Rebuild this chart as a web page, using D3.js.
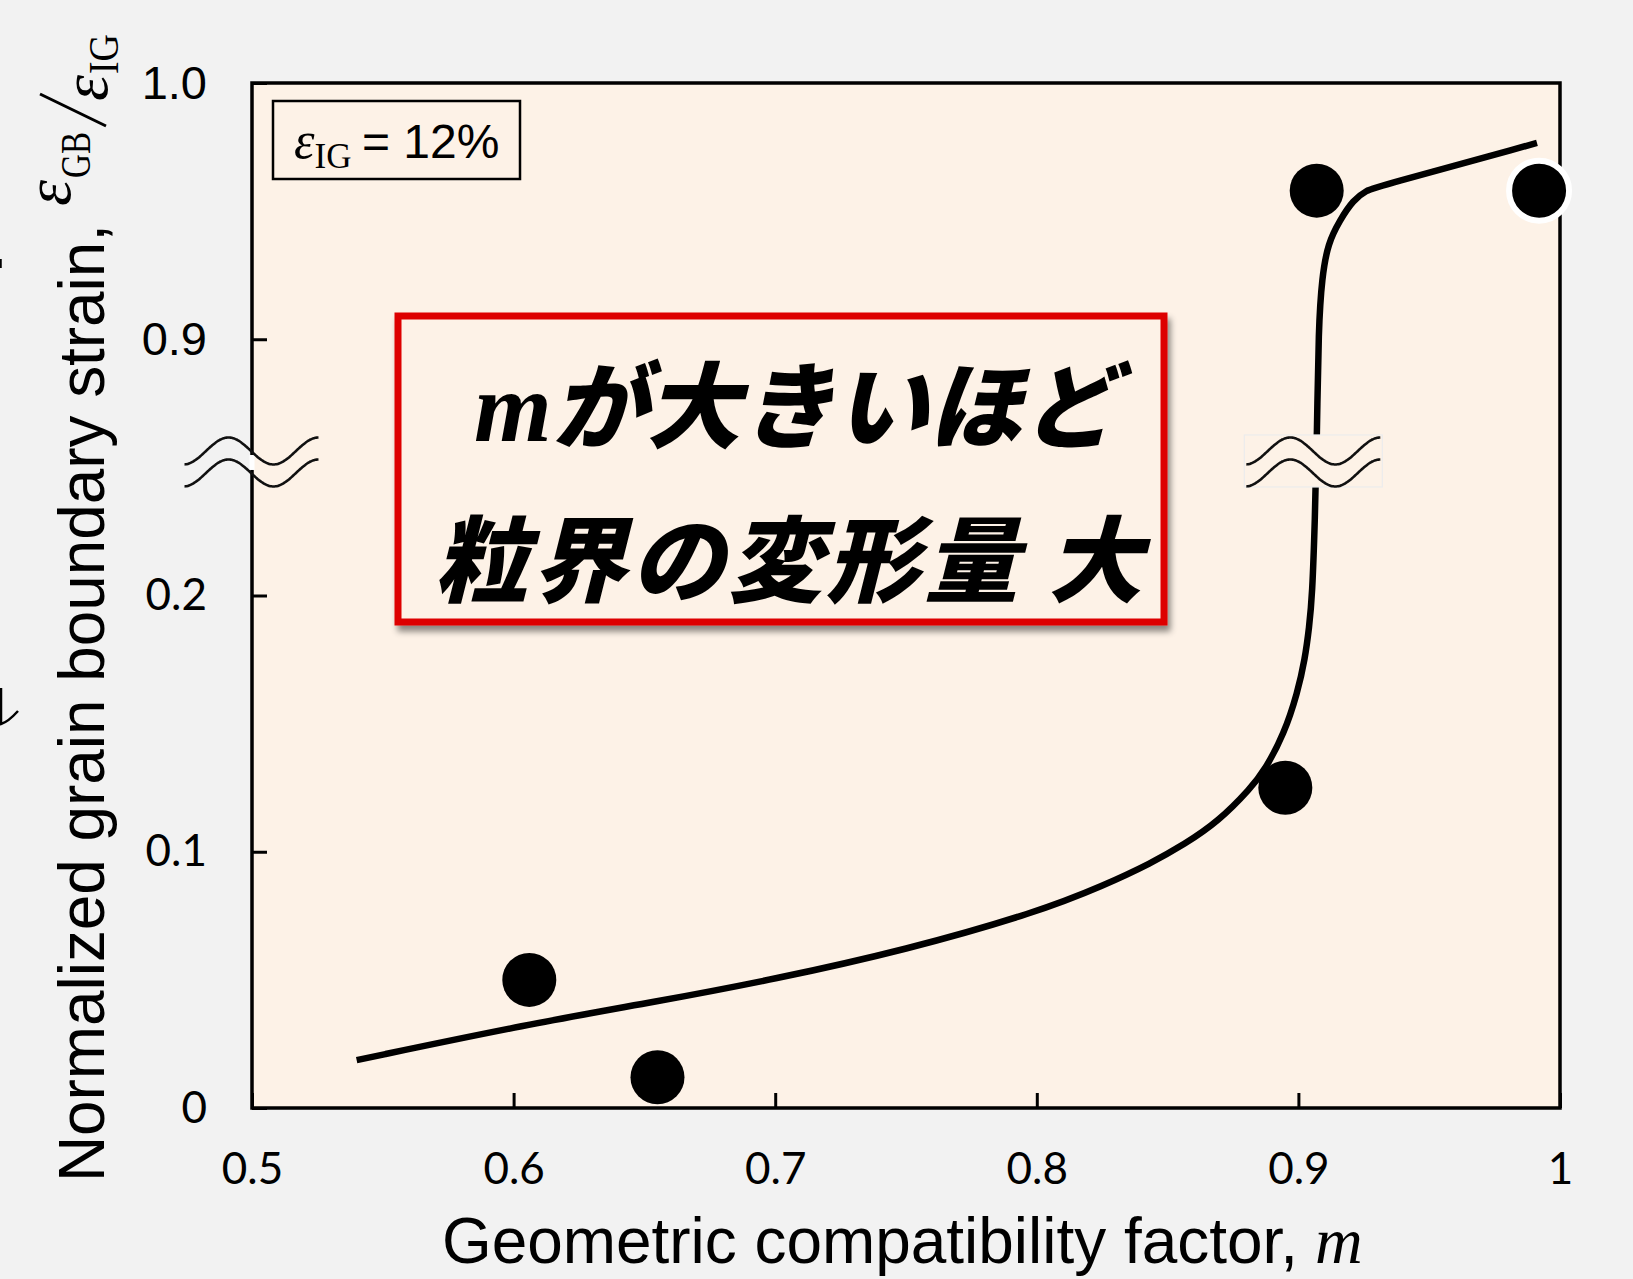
<!DOCTYPE html>
<html>
<head>
<meta charset="utf-8">
<script src="https://cdn.jsdelivr.net/npm/d3@7"></script>
<style>
  html, body { margin: 0; padding: 0; background: #f2f2f2; }
  svg { display: block; }
</style>
</head>
<body>
<svg id="chart" width="1633" height="1279"></svg>
<script>
// Measured grain boundaries: geometric compatibility factor m vs. normalized GB strain
const pointM     = [0.606, 0.655, 0.895, 0.907, 0.992];
const pointRatio = [0.050, 0.012, 0.125, 0.958, 0.958];

// Trend curve through the measurements
const fitM     = [0.540, 0.606, 0.654, 0.700, 0.750, 0.8002, 0.8260, 0.8436, 0.8563, 0.8694,
                  0.8818, 0.8873, 0.8945, 0.8997, 0.9025, 0.9041, 0.9053, 0.9063, 0.9071,
                  0.9077, 0.9090, 0.9113, 0.9159, 0.9209, 0.9262, 0.9300, 0.9912];
const fitRatio = [0.0187, 0.0328, 0.0414, 0.0503, 0.0617, 0.0764, 0.0870, 0.0955, 0.1028, 0.1118,
                  0.1248, 0.1321, 0.1459, 0.1622, 0.1752, 0.1874, 0.2000, 0.4035, 0.637,
                  0.905, 0.924, 0.9376, 0.9465, 0.9543, 0.9582, 0.9594, 0.9766];

// Axis ticks (the y axis is broken between 0.2 and 0.9)
const xTicks      = [0.5, 0.6, 0.7, 0.8, 0.9, 1.0];
const xTickLabels = ["0.5", "0.6", "0.7", "0.8", "0.9", "1"];
const yTicks      = [0, 0.1, 0.2, 0.9, 1.0];
const yTickLabels = ["0", "0.1", "0.2", "0.9", "1.0"];
const yBreakLow = 0.2, yBreakHigh = 0.9;

const strainLevel = "12%";
const noteLine1 = "が大きいほど";
const noteLine2 = "粒界の変形量 大";

// ---- layout ----
const W = 1633, H = 1279;
const plot = { left: 252, right: 1560, top: 83, bottom: 1108 };
const plotFill = "#fdf2e7";
const seg = (plot.bottom - plot.top) / 4;

const svg = d3.select("#chart");

const x = d3.scaleLinear().domain([0.5, 1.0]).range([plot.left, plot.right]);
const y = d3.scaleLinear()
  .domain([0, yBreakLow, yBreakHigh, 1.0])
  .range([plot.bottom, plot.bottom - 2 * seg, plot.top + seg, plot.top]);

// drop shadow for the callout box
const defs = svg.append("defs");
const sh = defs.append("filter").attr("id", "shadow")
  .attr("x", "-10%").attr("y", "-10%").attr("width", "120%").attr("height", "130%");
sh.append("feDropShadow").attr("dx", 3).attr("dy", 6).attr("stdDeviation", 3)
  .attr("flood-color", "#000").attr("flood-opacity", 0.45);

svg.append("rect").attr("width", W).attr("height", H).attr("fill", "#f2f2f2");

// plot area
svg.append("rect")
  .attr("x", plot.left).attr("y", plot.top)
  .attr("width", plot.right - plot.left).attr("height", plot.bottom - plot.top)
  .attr("fill", plotFill);

// ---- axes ----
const xAxis = svg.append("g")
  .attr("transform", `translate(0,${plot.bottom})`)
  .call(d3.axisBottom(x).tickValues(xTicks).tickSize(-15).tickPadding(45)
        .tickFormat((d, i) => xTickLabels[i]));
xAxis.select(".domain").remove();
xAxis.selectAll(".tick line").attr("stroke", "#000").attr("stroke-width", 3);
xAxis.selectAll(".tick text")
  .attr("fill", "#000").attr("font-family", "Lato, 'Open Sans', sans-serif")
  .attr("font-size", 44);

const yAxis = svg.append("g")
  .attr("transform", `translate(${plot.left},0)`)
  .call(d3.axisLeft(y).tickValues(yTicks).tickSize(-15).tickPadding(45)
        .tickFormat((d, i) => yTickLabels[i]));
yAxis.select(".domain").remove();
yAxis.selectAll(".tick line").attr("stroke", "#000").attr("stroke-width", 3);
yAxis.selectAll(".tick text")
  .attr("fill", "#000")
  .attr("font-family", d => d >= yBreakHigh ? "'Liberation Sans', Arial, sans-serif" : "Lato, 'Open Sans', sans-serif")
  .attr("font-size", d => d >= yBreakHigh ? 47 : 44);

// frame
svg.append("rect")
  .attr("x", plot.left).attr("y", plot.top)
  .attr("width", plot.right - plot.left).attr("height", plot.bottom - plot.top)
  .attr("fill", "none").attr("stroke", "#000").attr("stroke-width", 3.5);

// ---- trend curve ----
const fitData = fitM.map((m, i) => [m, fitRatio[i]]);
svg.append("path")
  .datum(fitData)
  .attr("d", d3.line().x(d => x(d[0])).y(d => y(d[1])).curve(d3.curveBasis))
  .attr("fill", "none").attr("stroke", "#000").attr("stroke-width", 6.5);

// ---- axis-break marks ----
const gapTop = y(yBreakHigh), gapBot = y(yBreakLow);
const breakY1 = gapBot - 0.564 * (gapBot - gapTop);
const breakY2 = breakY1 + 22;

function wavePath(cx, cy) {
  const pts = d3.range(-67, 67.5, 1).map(t => [cx + t, cy - 13.5 * Math.sin(2 * Math.PI * (t + 45.5) / 90)]);
  return d3.line().curve(d3.curveBasis)(pts);
}

// x position where the trend curve crosses the break
function curveXAt(py) {
  for (let i = 0; i < fitData.length - 1; i++) {
    const y0 = y(fitData[i][1]), y1 = y(fitData[i + 1][1]);
    if ((y0 - py) * (y1 - py) <= 0) {
      const t = (py - y0) / (y1 - y0);
      return x(fitData[i][0]) + t * (x(fitData[i + 1][0]) - x(fitData[i][0]));
    }
  }
  return x(0.9);
}
const curveBreakX = curveXAt((breakY1 + breakY2) / 2) - 3;

// break on the curve
svg.append("rect")
  .attr("x", curveBreakX - 69).attr("y", breakY1 - 16)
  .attr("width", 138).attr("height", breakY2 - breakY1 + 30)
  .attr("fill", plotFill).attr("stroke", "#ececec").attr("stroke-width", 1.2);
[breakY1, breakY2].forEach(cy => {
  svg.append("path").attr("d", wavePath(curveBreakX, cy))
    .attr("fill", "none").attr("stroke", "#111").attr("stroke-width", 2.6);
});

// break on the y axis
svg.append("rect")
  .attr("x", plot.left - 2.5).attr("y", breakY1 + 4).attr("width", 5).attr("height", breakY2 - breakY1 - 7)
  .attr("fill", "#ffffff");
[breakY1, breakY2].forEach(cy => {
  svg.append("path").attr("d", wavePath(plot.left - 0.5, cy))
    .attr("fill", "none").attr("stroke", "#111").attr("stroke-width", 2.6);
});

// ---- data points ----
svg.append("g").selectAll("circle")
  .data(pointM.map((m, i) => [m, pointRatio[i]]))
  .join("circle")
  .attr("cx", d => x(d[0])).attr("cy", d => y(d[1]))
  .attr("r", (d, i) => i === pointM.length - 1 ? 30 : 27)
  .attr("fill", "#000")
  .attr("stroke", (d, i) => i === pointM.length - 1 ? "#fff" : "none")
  .attr("stroke-width", 6);

// ---- strain-level box ----
const serif = "'Liberation Serif', 'Times New Roman', serif";
svg.append("rect")
  .attr("x", 273).attr("y", 101).attr("width", 247).attr("height", 78)
  .attr("fill", plotFill).attr("stroke", "#000").attr("stroke-width", 2.5);
const leg = svg.append("text").attr("y", 158).attr("fill", "#000");
leg.append("tspan").attr("x", 294)
  .attr("font-family", serif).attr("font-style", "italic")
  .attr("font-size", 52).text("ε");
leg.append("tspan").attr("dy", 10)
  .attr("font-family", serif)
  .attr("font-size", 35).text("IG");
leg.append("tspan").attr("dy", -10).attr("x", 362)
  .attr("font-family", "'Liberation Sans', Arial, sans-serif")
  .attr("font-size", 48).text("= " + strainLevel);

// ---- axis titles ----
svg.append("text")
  .attr("x", 442).attr("y", 1263)
  .attr("font-family", "'Liberation Sans', Arial, sans-serif").attr("font-size", 65)
  .attr("textLength", 856).attr("lengthAdjust", "spacingAndGlyphs")
  .attr("fill", "#000")
  .text("Geometric compatibility factor,");
svg.append("text")
  .attr("x", 1315).attr("y", 1263)
  .attr("font-family", serif).attr("font-style", "italic")
  .attr("font-size", 66).attr("fill", "#000")
  .text("m");

const yl = svg.append("g").attr("transform", "translate(104,0) rotate(-90)");
yl.append("text")
  .attr("x", -1182).attr("y", 0)
  .attr("font-family", "'Liberation Sans', Arial, sans-serif").attr("font-size", 65)
  .attr("textLength", 958).attr("lengthAdjust", "spacingAndGlyphs")
  .attr("fill", "#000")
  .text("Normalized grain boundary strain,");
yl.append("text").attr("x", -206).attr("y", -34)
  .attr("font-family", serif).attr("font-style", "italic").attr("font-size", 66).text("ε");
yl.append("text").attr("x", -178).attr("y", -14)
  .attr("font-family", serif).attr("font-size", 42)
  .attr("textLength", 46).attr("lengthAdjust", "spacingAndGlyphs").text("GB");
yl.append("line").attr("x1", -126).attr("y1", 2).attr("x2", -94).attr("y2", -64)
  .attr("stroke", "#000").attr("stroke-width", 3);
yl.append("text").attr("x", -101).attr("y", 3)
  .attr("font-family", serif).attr("font-style", "italic").attr("font-size", 66).text("ε");
yl.append("text").attr("x", -74).attr("y", 14)
  .attr("font-family", serif).attr("font-size", 42)
  .attr("textLength", 40).attr("lengthAdjust", "spacingAndGlyphs").text("IG");

// fragments of neighbouring artwork at the left edge
svg.append("line").attr("x1", 0.5).attr("y1", 259).attr("x2", 0.5).attr("y2", 268)
  .attr("stroke", "#000").attr("stroke-width", 2.5);
svg.append("path").attr("d", "M1,688 L1,724 Q8,722 18,711")
  .attr("fill", "none").attr("stroke", "#000").attr("stroke-width", 2.5);

// ---- callout ----
svg.append("rect")
  .attr("x", 398).attr("y", 316).attr("width", 766).attr("height", 306)
  .attr("fill", plotFill).attr("stroke", "#dd0000").attr("stroke-width", 7)
  .attr("filter", "url(#shadow)");

const jp = "'Noto Sans CJK JP', 'Noto Sans CJK SC', sans-serif";
const l1 = svg.append("text")
  .attr("x", 795).attr("y", 441).attr("text-anchor", "middle").attr("fill", "#000");
l1.append("tspan")
  .attr("font-family", serif).attr("font-style", "italic").attr("font-weight", 700)
  .attr("font-size", 100).text("m");
l1.append("tspan")
  .attr("font-family", jp).attr("font-style", "italic").attr("font-weight", 900)
  .attr("font-size", 94).text(noteLine1);

svg.append("text")
  .attr("x", 790).attr("y", 595).attr("text-anchor", "middle").attr("fill", "#000")
  .attr("font-family", jp).attr("font-style", "italic").attr("font-weight", 900)
  .attr("font-size", 94).attr("letter-spacing", 4).text(noteLine2);
</script>
</body>
</html>
